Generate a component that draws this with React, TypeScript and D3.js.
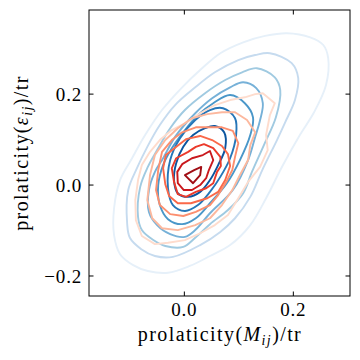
import React from "react";
import * as d3 from "d3";

type Pt = [number, number];

// blue KDE contours, outer -> inner (data units)
const blue1: Pt[] = [
  [0.148, 0.328], [0.188, 0.334], [0.231, 0.325], [0.255, 0.308], [0.264, 0.279],
  [0.26, 0.22], [0.238, 0.16], [0.212, 0.11], [0.181, 0.044], [0.15, -0.029],
  [0.121, -0.088], [0.084, -0.132], [0.047, -0.156], [0.01, -0.178], [-0.03, -0.193],
  [-0.067, -0.189], [-0.094, -0.176], [-0.118, -0.152], [-0.129, -0.11], [-0.129, -0.051],
  [-0.118, 0.011], [-0.096, 0.059], [-0.072, 0.11], [-0.041, 0.165], [-0.004, 0.215],
  [0.029, 0.253], [0.066, 0.29], [0.108, 0.314],
];
const blue2: Pt[] = [
  [0.13, 0.286], [0.157, 0.29], [0.197, 0.268], [0.209, 0.235], [0.203, 0.187],
  [0.185, 0.138], [0.17, 0.099], [0.143, 0.033], [0.121, -0.026], [0.093, -0.073],
  [0.066, -0.103], [0.029, -0.132], [-0.021, -0.158], [-0.054, -0.156], [-0.079, -0.141],
  [-0.1, -0.116], [-0.105, -0.084], [-0.103, -0.011], [-0.087, 0.037], [-0.068, 0.084],
  [-0.045, 0.132], [-0.017, 0.176], [0.02, 0.215], [0.056, 0.248], [0.099, 0.275],
];
const blue3: Pt[] = [
  [0.106, 0.248], [0.133, 0.257], [0.166, 0.237], [0.176, 0.209], [0.168, 0.149],
  [0.146, 0.088], [0.124, 0.029], [0.108, -0.018], [0.08, -0.055], [0.047, -0.086],
  [0.02, -0.116], [-0.002, -0.136], [-0.035, -0.134], [-0.057, -0.121], [-0.078, -0.099],
  [-0.085, -0.07], [-0.081, -0.004], [-0.067, 0.04], [-0.05, 0.077], [-0.026, 0.125],
  [0.001, 0.165], [0.038, 0.202], [0.075, 0.231],
];
const blue4: Pt[] = [
  [0.084, 0.215], [0.108, 0.226], [0.132, 0.213], [0.144, 0.18], [0.139, 0.143],
  [0.13, 0.106], [0.117, 0.055], [0.089, -0.011], [0.047, -0.062], [0.02, -0.099],
  [0.001, -0.114], [-0.026, -0.108], [-0.05, -0.088], [-0.065, -0.059], [-0.065, -0.011],
  [-0.054, 0.029], [-0.039, 0.059], [-0.017, 0.106], [0.02, 0.158], [0.051, 0.191],
];
const blue5: Pt[] = [
  [0.053, 0.18], [0.084, 0.198], [0.111, 0.18], [0.126, 0.149], [0.121, 0.11],
  [0.102, 0.055], [0.078, 0.004], [0.047, -0.04], [0.021, -0.073], [-0.004, -0.086],
  [-0.03, -0.075], [-0.045, -0.044], [-0.048, 0.0], [-0.039, 0.044], [-0.023, 0.081],
  [-0.002, 0.116], [0.025, 0.154],
];
const blue6: Pt[] = [
  [0.047, 0.165], [0.071, 0.169], [0.093, 0.147], [0.095, 0.11], [0.084, 0.059],
  [0.066, 0.018], [0.047, -0.015], [0.025, -0.044], [0.001, -0.057], [-0.021, -0.044],
  [-0.03, -0.007], [-0.026, 0.055], [-0.008, 0.103], [0.02, 0.143],
];
const blue7: Pt[] = [
  [0.038, 0.125], [0.056, 0.13], [0.073, 0.116], [0.075, 0.081], [0.062, 0.044],
  [0.047, 0.011], [0.029, -0.015], [0.007, -0.026], [-0.012, -0.018], [-0.019, 0.011],
  [-0.015, 0.048], [-0.002, 0.084], [0.016, 0.11],
];

// red KDE contours, outer -> inner (data units)
const red1: Pt[] = [
  [-0.085, 0.011], [-0.078, 0.044], [-0.063, 0.073], [-0.045, 0.099], [-0.023, 0.121],
  [0.001, 0.136], [0.029, 0.158], [0.056, 0.176], [0.084, 0.187], [0.111, 0.193],
  [0.13, 0.2], [0.144, 0.202], [0.166, 0.18], [0.157, 0.154], [0.15, 0.11],
  [0.153, 0.077], [0.139, 0.04], [0.117, 0.007], [0.099, -0.029], [0.08, -0.066],
  [0.056, -0.088], [0.029, -0.106], [0.001, -0.121], [-0.03, -0.127], [-0.054, -0.13],
  [-0.078, -0.112], [-0.089, -0.077], [-0.09, -0.033],
];
const red2: Pt[] = [
  [-0.063, 0.022], [-0.054, 0.066], [-0.035, 0.099], [-0.012, 0.125], [0.014, 0.147],
  [0.042, 0.156], [0.069, 0.16], [0.093, 0.16], [0.115, 0.143], [0.13, 0.116],
  [0.121, 0.088], [0.117, 0.055], [0.102, 0.022], [0.088, -0.011], [0.069, -0.044],
  [0.047, -0.073], [0.02, -0.088], [-0.012, -0.099], [-0.041, -0.095], [-0.059, -0.073],
  [-0.068, -0.033],
];
const red3: Pt[] = [
  [-0.048, 0.033], [-0.041, 0.073], [-0.023, 0.099], [-0.004, 0.116], [0.021, 0.127],
  [0.051, 0.127], [0.069, 0.127], [0.089, 0.119], [0.099, 0.092], [0.093, 0.062],
  [0.088, 0.033], [0.077, 0.007], [0.062, -0.022], [0.047, -0.044], [0.021, -0.059],
  [-0.002, -0.068], [-0.026, -0.064], [-0.045, -0.044], [-0.052, -0.011],
];
const red4: Pt[] = [
  [-0.039, 0.037], [-0.034, 0.066], [-0.013, 0.086], [0.003, 0.101], [0.029, 0.108],
  [0.051, 0.099], [0.069, 0.086], [0.08, 0.068], [0.084, 0.042], [0.075, 0.011],
  [0.062, -0.015], [0.042, -0.029], [0.012, -0.04], [-0.012, -0.04], [-0.028, -0.024],
  [-0.035, 0.002],
];
const red5: Pt[] = [
  [-0.023, 0.037], [-0.015, 0.059], [0.007, 0.073], [0.021, 0.084], [0.036, 0.09],
  [0.053, 0.081], [0.066, 0.062], [0.067, 0.042], [0.06, 0.029], [0.053, 0.004],
  [0.04, -0.007], [0.021, -0.015], [0.003, -0.026], [-0.012, -0.02], [-0.019, 0.007],
];
const red6: Pt[] = [
  [-0.013, 0.029], [-0.004, 0.046], [0.014, 0.059], [0.034, 0.066], [0.047, 0.075],
  [0.053, 0.055], [0.045, 0.033], [0.04, 0.015], [0.029, 0.0], [0.014, -0.011],
  [-0.001, -0.011], [-0.012, 0.004],
];
const red7: Pt[] = [
  [0.001, 0.022], [0.018, 0.033], [0.031, 0.04], [0.029, 0.022], [0.016, 0.004],
];

const blueLevels = [blue1, blue2, blue3, blue4, blue5, blue6, blue7];
const redLevels = [red1, red2, red3, red4, red5, red6, red7];
const blueColors = ["#e6f0f9", "#c6dbef", "#a0cae1", "#76b1d8", "#4a97c9", "#2676b8", "#0b559f"];
const redColors = ["#fedccd", "#fcb89e", "#fc8f6f", "#fa6849", "#eb3a2b", "#c9181d", "#a10e15"];

const xTicks = [0, 0.2];
const yTicks = [-0.2, 0, 0.2];

const W = 360;
const H = 360;
const margin = { top: 10, right: 10, bottom: 64, left: 89 };
const FONT = "'Liberation Serif', 'Times New Roman', serif";

export default function App() {
  const x = d3.scaleLinear().domain([-0.175, 0.304]).range([margin.left, W - margin.right]);
  const y = d3.scaleLinear().domain([-0.244, 0.385]).range([H - margin.bottom, margin.top]);

  const smooth = d3
    .line<Pt>()
    .x((d) => x(d[0]))
    .y((d) => y(d[1]))
    .curve(d3.curveCatmullRomClosed.alpha(0.5));
  const jagged = d3
    .line<Pt>()
    .x((d) => x(d[0]))
    .y((d) => y(d[1]))
    .curve(d3.curveLinearClosed);

  const x0 = margin.left;
  const x1 = W - margin.right;
  const y0 = margin.top;
  const y1 = H - margin.bottom;
  const tick = 4.5;
  const fmt = (v: number) => (v < 0 ? "\u2212" : "") + Math.abs(v).toFixed(1);

  return (
    <div style={{ position: "absolute", left: 0, top: 0 }}>
      <svg width={W} height={H} style={{ display: "block", background: "#fff" }}>
        <g fill="none" strokeWidth={1.9} strokeLinejoin="round">
          {blueLevels.map((c, i) => (
            <path key={"b" + i} d={smooth(c) || ""} stroke={blueColors[i]} />
          ))}
          {redLevels.map((c, i) => (
            <path key={"r" + i} d={jagged(c) || ""} stroke={redColors[i]} />
          ))}
        </g>

        <rect x={x0} y={y0} width={x1 - x0} height={y1 - y0} fill="none" stroke="#000" strokeWidth={1} />

        {xTicks.map((t) => (
          <g key={"xt" + t}>
            <line x1={x(t)} x2={x(t)} y1={y1} y2={y1 - tick} stroke="#000" />
            <line x1={x(t)} x2={x(t)} y1={y0} y2={y0 + tick} stroke="#000" />
            <text x={x(t)} y={316} textAnchor="middle" fontFamily={FONT} fontSize={19} letterSpacing={0.8}>
              {fmt(t)}
            </text>
          </g>
        ))}
        {yTicks.map((t) => (
          <g key={"yt" + t}>
            <line x1={x0} x2={x0 + tick} y1={y(t)} y2={y(t)} stroke="#000" />
            <line x1={x1} x2={x1 - tick} y1={y(t)} y2={y(t)} stroke="#000" />
            <text x={x0 - 7} y={y(t)} dy="0.35em" textAnchor="end" fontFamily={FONT} fontSize={19} letterSpacing={0.8}>
              {fmt(t)}
            </text>
          </g>
        ))}

        <text x={220} y={341} textAnchor="middle" fontFamily={FONT} fontSize={20} letterSpacing={1.4}>
          prolaticity(<tspan fontStyle="italic">M</tspan>
          <tspan fontStyle="italic" fontSize={14} dy={4}>ij</tspan>
          <tspan dy={-4}>)/tr</tspan>
        </text>
        <text
          transform={`translate(28, ${(y0 + y1) / 2}) rotate(-90)`}
          textAnchor="middle"
          fontFamily={FONT}
          fontSize={20}
          letterSpacing={1.4}
        >
          prolaticity(<tspan fontStyle="italic">ε</tspan>
          <tspan fontStyle="italic" fontSize={14} dy={4}>ij</tspan>
          <tspan dy={-4}>)/tr</tspan>
        </text>
      </svg>
    </div>
  );
}
